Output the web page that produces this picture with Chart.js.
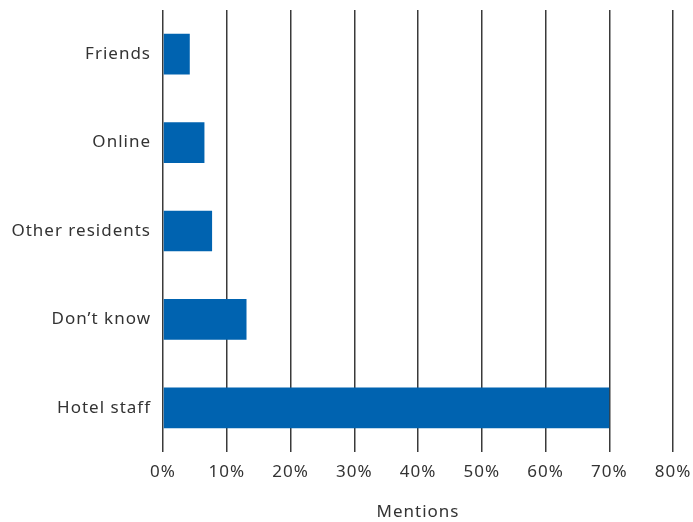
<!DOCTYPE html>
<html>
<head>
<meta charset="utf-8">
<script src="https://cdn.jsdelivr.net/npm/chart.js@4"></script>
<style>
  html,body{margin:0;padding:0;background:#fff;}
  #wrap{width:693px;height:522px;position:relative;}
</style>
</head>
<body>
<div id="wrap"><canvas id="chart"></canvas></div>
<script>
// ===== 数据 =====
const categories = ["Friends", "Online", "Other residents", "Don\u2019t know", "Hotel staff"];
const mentions = [4.2, 6.5, 7.7, 13.1, 70.0];
const xTicks = [0, 10, 20, 30, 40, 50, 60, 70, 80];

const TEXT = "#333333";
const FONT = "'Noto Sans', 'Open Sans', sans-serif";

// 字间距（画布状态）
const spacing = {
  id: "spacing",
  beforeDraw(chart){ chart.ctx.letterSpacing = "1px"; }
};

const ctx = document.getElementById("chart").getContext("2d");
new Chart(ctx, {
  type: "bar",
  data: {
    labels: categories,
    datasets: [{
      label: "Mentions",
      data: mentions,
      backgroundColor: "#0063b0",
      borderWidth: 0,
      barPercentage: 0.46,
      categoryPercentage: 1
    }]
  },
  options: {
    indexAxis: "y",
    responsive: true, maintainAspectRatio: false, animation: false,
    layout: {padding: {top: 10, right: 20, left: 0, bottom: 0}},
    plugins: {legend: {display: false}, tooltip: {enabled: false}},
    scales: {
      x: {
        min: 0, max: 80,
        afterBuildTicks: s => { s.ticks = xTicks.map(v => ({value: v})); },
        afterFit: s => { s.height = 70; s.paddingLeft = 0; s.paddingRight = 0; },
        grid: {color: "#3a3a3a", lineWidth: 1.5, drawTicks: false},
        border: {display: false},
        ticks: {color: TEXT, font: {family: FONT, size: 17}, padding: 10, callback: v => v + "%"},
        title: {display: true, text: "Mentions", color: TEXT, font: {family: FONT, size: 17}, padding: {top: 11, bottom: 0}}
      },
      y: {
        afterFit: s => { s.width = 163; s.paddingTop = 0; s.paddingBottom = 0; },
        grid: {display: false, drawTicks: false},
        border: {display: false},
        ticks: {color: TEXT, font: {family: FONT, size: 17}, padding: 12}
      }
    }
  },
  plugins: [spacing]
});
</script>
</body>
</html>
